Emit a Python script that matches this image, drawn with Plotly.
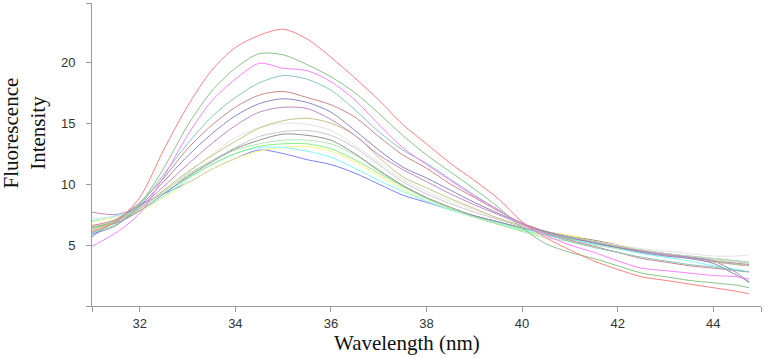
import plotly.graph_objects as go

wavelength = [31.0, 31.5, 32.0, 32.5, 33.0, 33.5, 34.0, 34.5, 35.0, 35.5, 36.0, 36.5, 37.0, 37.5,
              38.0, 38.5, 39.0, 39.5, 40.0, 40.5, 41.0, 41.5, 42.0, 42.5, 43.0, 43.5, 44.0, 44.5, 44.75]

s_red = [6.1, 6.9, 8.9, 12.8, 16.4, 19.3, 21.2, 22.2, 22.7, 21.9, 20.4, 18.7, 16.9, 14.9,
         13.3, 11.7, 10.3, 8.8, 6.9, 5.6, 4.6, 3.7, 3.0, 2.4, 2.1, 1.8, 1.5, 1.2, 1.0]
s_green = [6.4, 7.0, 8.4, 11.3, 14.8, 17.6, 19.5, 20.7, 20.6, 19.8, 18.8, 17.5, 15.8, 14.0,
           12.4, 11.0, 9.6, 8.1, 6.4, 5.1, 4.4, 3.9, 3.3, 2.7, 2.4, 2.1, 1.9, 1.7, 1.5]
s_magenta = [4.9, 6.0, 7.6, 10.6, 14.0, 16.8, 18.6, 19.9, 19.5, 19.3, 18.4, 16.9, 14.9, 13.0,
             11.6, 10.3, 9.0, 7.9, 6.7, 5.8, 5.0, 4.4, 3.7, 3.1, 2.9, 2.7, 2.5, 2.4, 2.2]
s_teal = [6.0, 6.9, 8.3, 10.8, 13.3, 15.5, 17.1, 18.3, 18.9, 18.6, 17.7, 16.1, 14.3, 12.8,
          11.7, 10.4, 9.1, 7.9, 6.7, 5.9, 5.3, 4.8, 4.4, 4.0, 3.7, 3.4, 3.2, 2.9, 2.8]
s_rosy = [6.6, 7.1, 8.5, 10.5, 12.9, 14.8, 16.3, 17.3, 17.6, 17.1, 16.5, 15.5, 13.9, 12.4,
          11.3, 10.0, 8.9, 7.8, 6.8, 6.0, 5.4, 4.9, 4.4, 3.9, 3.6, 3.3, 3.1, 2.9, 2.8]
s_slate = [5.9, 6.6, 8.2, 10.2, 12.3, 14.1, 15.6, 16.6, 17.0, 16.7, 15.9, 14.4, 12.8, 11.4,
           10.5, 9.5, 8.5, 7.6, 6.8, 6.1, 5.6, 5.2, 4.8, 4.4, 4.1, 3.9, 3.5, 2.5, 2.0]
s_orchid = [7.7, 7.5, 8.2, 9.8, 11.6, 13.3, 14.8, 15.9, 16.3, 16.2, 15.3, 14.0, 12.4, 11.2,
            10.2, 9.2, 8.3, 7.5, 6.7, 6.1, 5.6, 5.2, 4.8, 4.5, 4.2, 4.0, 3.7, 3.5, 3.4]
s_khaki = [6.3, 6.9, 8.0, 9.5, 11.0, 12.3, 13.5, 14.6, 15.2, 15.4, 15.0, 14.0, 12.2, 10.6,
           9.7, 8.8, 8.0, 7.2, 6.6, 6.1, 5.7, 5.3, 4.9, 4.5, 4.2, 3.9, 3.6, 3.4, 3.3]
s_lightgray = [7.2, 7.3, 7.9, 9.3, 10.9, 12.4, 13.8, 14.6, 15.0, 14.9, 14.4, 13.2, 11.8, 10.4,
               9.4, 8.6, 7.9, 7.2, 6.6, 6.1, 5.7, 5.3, 5.0, 4.7, 4.5, 4.3, 4.1, 4.1, 4.2]
s_silver = [6.5, 7.0, 8.1, 9.4, 10.7, 11.9, 13.0, 13.9, 14.3, 14.4, 14.0, 13.0, 11.6, 10.2,
            9.2, 8.4, 7.7, 7.1, 6.5, 6.0, 5.6, 5.2, 4.9, 4.6, 4.3, 4.1, 3.9, 3.7, 3.6]
s_darkgray = [6.5, 6.8, 7.8, 9.2, 10.6, 11.8, 12.9, 13.6, 14.1, 14.0, 13.6, 12.5, 11.1, 9.9,
              8.9, 8.1, 7.4, 6.9, 6.4, 6.1, 5.7, 5.4, 5.0, 4.5, 4.3, 4.0, 3.7, 2.7, 1.9]
s_lightgreen = [6.2, 6.9, 8.0, 9.4, 10.8, 11.9, 12.8, 13.3, 13.6, 13.6, 13.3, 12.4, 11.2, 9.9,
                8.8, 8.0, 7.3, 6.7, 6.1, 5.6, 5.3, 5.0, 4.7, 4.4, 4.2, 4.0, 3.8, 3.6, 3.5]
s_lime = [6.0, 6.7, 7.9, 9.2, 10.5, 11.6, 12.5, 13.1, 13.3, 13.3, 12.9, 12.0, 10.9, 9.8,
          8.8, 8.0, 7.3, 6.7, 6.2, 5.8, 5.5, 5.2, 4.9, 4.6, 4.3, 4.1, 3.9, 3.7, 3.6]
s_cyan = [7.0, 7.4, 7.9, 9.0, 10.4, 11.6, 12.5, 13.0, 13.0, 12.7, 12.2, 11.3, 10.3, 9.4,
          8.6, 7.9, 7.3, 6.8, 6.3, 5.9, 5.5, 5.1, 4.7, 4.3, 4.0, 3.7, 3.3, 3.0, 2.8]
s_yellow = [6.9, 7.3, 7.8, 8.9, 10.1, 11.2, 12.1, 12.7, 13.0, 13.1, 12.7, 11.8, 10.7, 9.6,
            8.6, 7.9, 7.3, 6.8, 6.4, 6.1, 5.8, 5.4, 5.0, 4.6, 4.3, 4.0, 3.7, 3.5, 3.4]
s_blue = [5.7, 7.0, 8.3, 9.2, 10.1, 11.2, 12.1, 12.8, 12.5, 12.0, 11.6, 10.9, 10.0, 9.1,
          8.5, 7.9, 7.4, 6.9, 6.4, 5.9, 5.5, 5.1, 4.8, 4.5, 4.2, 4.0, 3.7, 3.4, 3.3]

series = [
    (s_blue, "#8080FF"), (s_yellow, "#F7F77A"), (s_cyan, "#80F7F7"), (s_lime, "#88EE88"),
    (s_lightgreen, "#B0E8B0"), (s_darkgray, "#929292"), (s_silver, "#CACACA"),
    (s_lightgray, "#E4E4E4"), (s_khaki, "#C4C484"), (s_orchid, "#C488C4"), (s_slate, "#8888C4"),
    (s_rosy, "#C88888"), (s_teal, "#88C4C4"), (s_magenta, "#FF80FF"), (s_green, "#88C488"),
    (s_red, "#FF8080"),
]

x_tickvals = [31, 32, 34, 36, 38, 40, 42, 44, 45]
x_ticktext = ["", "32", "34", "36", "38", "40", "42", "44", ""]
y_tickvals = [0, 5, 10, 15, 20, 24.85]
y_ticktext = ["", "5", "10", "15", "20", ""]

fig = go.Figure()
for vals, col in series:
    fig.add_trace(go.Scatter(x=wavelength, y=vals, mode="lines",
                             line=dict(color=col, width=1, shape="spline", smoothing=0.8),
                             showlegend=False))

axis_common = dict(showline=True, linecolor="#9A9A9A", linewidth=1, showgrid=False,
                   zeroline=False, ticks="outside", ticklen=5, tickcolor="#9A9A9A",
                   tickfont=dict(family="Liberation Sans, Arial", size=13, color="#333333"))

fig.update_xaxes(range=[31, 45], tickmode="array", tickvals=x_tickvals, ticktext=x_ticktext,
                 **axis_common)
fig.update_yaxes(range=[0, 24.85], tickmode="array", tickvals=y_tickvals, ticktext=y_ticktext,
                 ticklabelstandoff=8, **axis_common)

fig.add_annotation(text="Fluorescence<br>Intensity", textangle=-90, xref="paper", yref="paper",
                   x=(24 - 92) / 669, y=(306 - 133.5) / 303, xanchor="center", yanchor="middle",
                   showarrow=False, font=dict(family="Liberation Serif, Times New Roman", size=21,
                                              color="#111111"))
fig.add_annotation(text="Wavelength (nm)", xref="paper", yref="paper",
                   x=(407 - 92) / 669, y=(306 - 343) / 303, xanchor="center", yanchor="middle",
                   showarrow=False, font=dict(family="Liberation Serif, Times New Roman", size=21,
                                              color="#111111"))

fig.update_layout(width=764, height=358, margin=dict(l=92, r=3, t=3, b=52),
                  plot_bgcolor="white", paper_bgcolor="white")

fig.write_html("out.html")
